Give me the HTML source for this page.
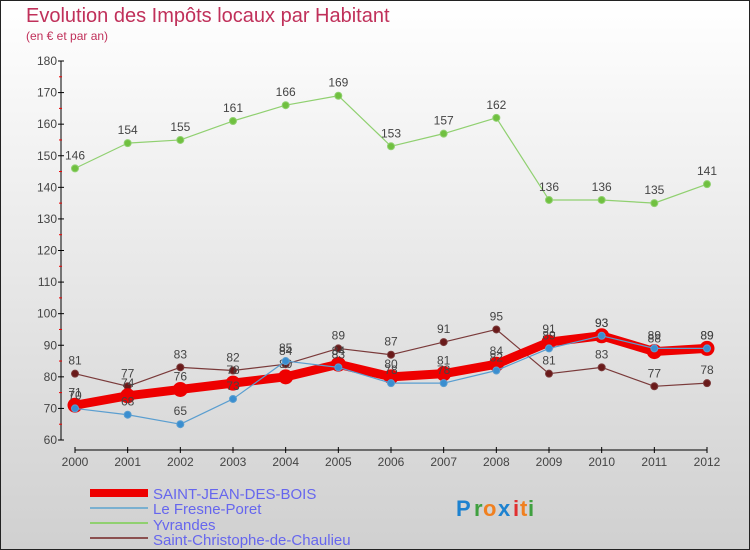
<!DOCTYPE html>
<html><head><meta charset="utf-8"><style>
body{margin:0}
#c{width:750px;height:550px;position:relative;overflow:hidden;font-family:"Liberation Sans",sans-serif}
</style></head><body>
<div id="c">
<svg id="s" width="750" height="550" xmlns="http://www.w3.org/2000/svg" font-family="Liberation Sans, sans-serif">
<defs><linearGradient id="bg" x1="0" y1="0" x2="0" y2="1"><stop offset="0" stop-color="#ffffff"/><stop offset="1" stop-color="#d0d0d0"/></linearGradient></defs>
<rect x="0.5" y="0.5" width="749" height="549" fill="url(#bg)" stroke="#222"/>
<text x="26" y="22" font-size="20" fill="#c0305a">Evolution des Impôts locaux par Habitant</text>
<text x="26" y="40" font-size="12" fill="#c0305a">(en € et par an)</text>
<g id="axes"></g><g id="series"></g>
<g>
<rect x="90" y="489" width="58" height="8" fill="#ee0000"/>
<line x1="90" y1="508" x2="148" y2="508" stroke="#7ab0d0" stroke-width="2"/>
<line x1="90" y1="523" x2="148" y2="523" stroke="#90d070" stroke-width="2"/>
<line x1="90" y1="538" x2="148" y2="538" stroke="#8b5050" stroke-width="2"/>
<g font-size="15" fill="#6666ee">
<text x="153" y="499">SAINT-JEAN-DES-BOIS</text>
<text x="153" y="514">Le Fresne-Poret</text>
<text x="153" y="530">Yvrandes</text>
<text x="153" y="545">Saint-Christophe-de-Chaulieu</text>
</g></g>
<g font-size="22" font-weight="bold">
<text x="456" y="516" fill="#1d82d0">P</text><text x="474" y="516" fill="#40a040">r</text><text x="483" y="516" fill="#f08020">o</text><text x="498" y="516" fill="#1d82d0">x</text><text x="513" y="516" fill="#e03030">i</text><text x="520" y="516" fill="#f08020">t</text><text x="528" y="516" fill="#40a040">i</text>
</g>
</svg></div>
<script>
const years=["2000","2001","2002","2003","2004","2005","2006","2007","2008","2009","2010","2011","2012"];
const yTicks=[60,70,80,90,100,110,120,130,140,150,160,170,180];
const saintJean=[71,74,76,78,80,84,80,81,84,91,93,88,89];
const fresne=[70,68,65,73,85,83,78,78,82,89,93,89,89];
const yvrandes=[146,154,155,161,166,169,153,157,162,136,136,135,141];
const christophe=[81,77,83,82,84,89,87,91,95,81,83,77,78];
const NS="http://www.w3.org/2000/svg";
const X0=75,X1=707,Y60=440,Y180=61;
function xs(i){return X0+(X1-X0)*i/(years.length-1);}
function ys(v){return Y60-(v-60)*(Y60-Y180)/120;}
function mk(t,a,p){const e=document.createElementNS(NS,t);for(const k in a)e.setAttribute(k,a[k]);p.appendChild(e);return e;}
const ax=document.getElementById('axes');
let e=mk('line',{x1:61,y1:Y180,x2:61,y2:Y60,stroke:'#000'},ax);


yTicks.forEach((v,i)=>{mk('line',{x1:58,y1:ys(v),x2:64,y2:ys(v),stroke:'#000'},ax);
 if(i<yTicks.length-1)mk('line',{x1:59,y1:ys(v+5),x2:62,y2:ys(v+5),stroke:'#e00'},ax);
 const t=mk('text',{x:57,y:ys(v)+4,'font-size':12,fill:'#444','text-anchor':'end'},ax);t.textContent=v;
 
 });
e=mk('line',{x1:X0,y1:450,x2:X1,y2:450,stroke:'#000'},ax);


years.forEach((y,i)=>{mk('line',{x1:xs(i),y1:447,x2:xs(i),y2:453,stroke:'#000'},ax);
 const t=mk('text',{x:xs(i),y:466,'font-size':12,fill:'#444','text-anchor':'middle'},ax);t.textContent=y;
 
 });
const sg=document.getElementById('series');
function draw(name,data,color,dot,w,r){
 const g=mk('g',{},sg);
 
 
 mk('polyline',{points:data.map((v,i)=>xs(i)+','+ys(v)).join(' '),fill:'none',stroke:color,'stroke-width':w,'stroke-linejoin':'round'},g);
 data.forEach((v,i)=>{const c=mk('circle',{cx:xs(i),cy:ys(v),r:r,fill:dot,stroke:color,'stroke-width':1},g);
  
  
  const t=mk('text',{x:xs(i),y:ys(v)-9,'font-size':12,fill:'#444','text-anchor':'middle'},g);t.textContent=v;
  
  });
}
draw('yvrandes',yvrandes,'#90d070','#70c040',1.2,3.5);
draw('christophe',christophe,'#7a3a3a','#6a1a1a',1.2,3.5);
draw('saint-jean',saintJean,'#ee0000','#ee0000',9,7);
draw('fresne',fresne,'#5a9ed0','#3a8ed0',1.2,3.5);
</script>
</body></html>
